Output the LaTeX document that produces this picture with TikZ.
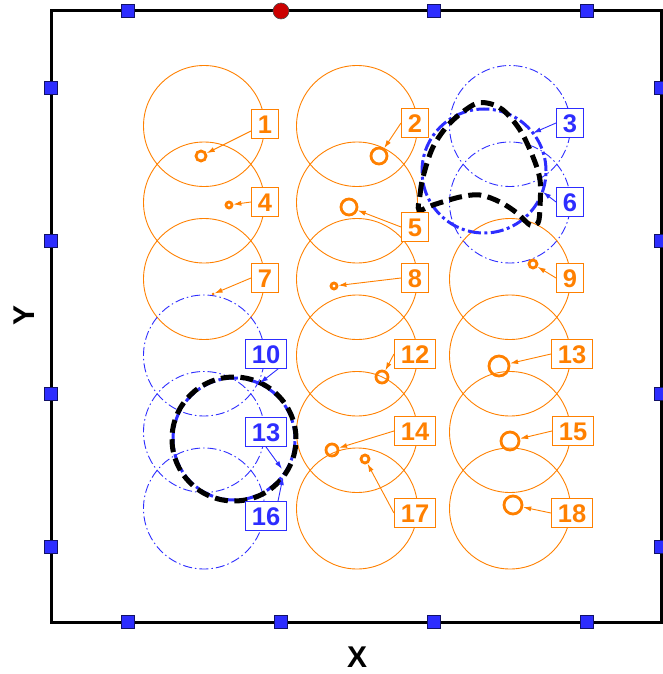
\documentclass[tikz,border=0pt]{standalone}
\usepackage{fontspec}
\setmainfont{Liberation Sans}
\usepackage{tikz}
\usetikzlibrary{arrows.meta,positioning,calc}
\definecolor{orng}{RGB}{255,128,0}
\definecolor{blu}{RGB}{45,45,255}
\definecolor{dotred}{RGB}{204,0,0}

\begin{document}
\begin{tikzpicture}[x=1pt,y=-1pt,
    ring/.style={orng,line width=0.9pt},
    bring/.style={blu,line width=0.9pt,dash pattern=on 9pt off 3pt on 1.5pt off 3pt},
    thick dd/.style={blu,line width=3pt,dash pattern=on 13pt off 3.5pt on 3pt off 3.5pt},
    blackdash/.style={line width=5pt,dash pattern=on 13pt off 6.5pt},
    tag/.style={draw,fill=white,line width=0.8pt,font=\fontsize{25.5}{25.5}\selectfont\bfseries,
        inner xsep=6.5pt,inner ysep=0pt,minimum height=29pt,text height=18pt,text depth=0pt},
    otag/.style={orng,tag},
    btag/.style={blu,tag},
    spot/.style={circle,draw=orng,line width=2.8pt,inner sep=0pt,minimum size=#1},
    lead/.style={-{Latex[length=8pt,width=5pt]},line width=0.9pt},
    axsq/.style={draw=black!60!blu,fill=blu,line width=0.6pt,minimum size=12.5pt,inner sep=0pt}
]
\useasboundingbox (0,0) rectangle (662,674);

% frame and its markers
\draw[line width=3pt] (51,11) rectangle (661,622);
\foreach \s in {77,230,383,536} {
    \node[axsq] (lft\s) at (51,11+\s) {};
    \node[axsq] (rgt\s) at (661,11+\s) {};
    \node[axsq] (bot\s) at (51+\s,622) {};
}
\foreach \s in {77,383,536}
    \node[axsq] (top\s) at (51+\s,11) {};
\node[circle,draw=black!70,fill=dotred,line width=0.6pt,minimum size=16pt,inner sep=0pt] (red) at (281,11) {};

% grid of circles, 3 columns x 6 rows
\foreach \y in {126,202.5,279,355.5,432,508.5}
    \draw[ring] (357,\y) circle[radius=60.5pt];
\foreach \y in {126,202.5,279}
    \draw[ring] (204,\y) circle[radius=60.5pt];
\foreach \y in {355.5,432,508.5}
    \draw[bring] (204,\y) circle[radius=60.5pt];
\foreach \y in {126,202.5}
    \draw[bring] (510,\y) circle[radius=60.5pt];
\foreach \y in {279,355.5,432,508.5}
    \draw[ring] (510,\y) circle[radius=60.5pt];

% fitted circles and outlines
\draw[thick dd] (484,171) circle[radius=62pt];
\draw[thick dd] (234,439) circle[radius=61pt];
\draw[blackdash] (234,439) circle[radius=62pt];
\draw[blackdash] plot[smooth cycle,tension=0.55] coordinates {
    (419,210) (420,195) (423,177) (433,147) (450,123) (473,105) (487,103) (503,110)
    (520,130) (533,157) (540,180) (540,207) (538,223) (530,225) (517,213) (500,202)
    (480,195) (460,197) (433,205)};

% points
\node[spot=10pt] (m1) at (201,156) {};
\node[spot=16pt] (m2) at (379,156) {};
\node[spot=6pt] (m4) at (229,205) {};
\node[spot=16pt] (m5) at (349,207) {};
\node[circle,fill=orng,inner sep=0pt,minimum size=3pt] (m7) at (213,294) {};
\node[spot=6pt] (m8) at (334,286) {};
\node[spot=8pt] (m9) at (533,264) {};
\node[spot=12pt] (m12) at (382,377) {};
\node[spot=20pt] (m13) at (499,366) {};
\node[spot=12pt] (m14) at (332,450) {};
\node[spot=18pt] (m15) at (510,441) {};
\node[spot=8pt] (m17) at (365,459) {};
\node[spot=18pt] (m18) at (513,505) {};
\coordinate (a3) at (533,133);
\coordinate (a6) at (543,192);
\coordinate (a10) at (260,383);
\coordinate (a13) at (282,469);
\coordinate (a16) at (283,477);

% labels
\node[otag] (l1) at (265,124) {1};
\node[otag] (l2) at (415,123) {2};
\node[btag] (l3) at (570,123) {3};
\node[otag] (l4) at (265,202) {4};
\node[otag] (l5) at (415,227) {5};
\node[btag] (l6) at (570,202) {6};
\node[otag] (l7) at (265,278) {7};
\node[otag] (l8) at (415,278) {8};
\node[otag] (l9) at (570,278) {9};
\node[btag] (l10) at (266,354) {10};
\node[otag] (l12) at (415,354) {12};
\node[otag] (l13c) at (572,354) {13};
\node[btag] (l13b) at (266,432) {13};
\node[otag] (l14) at (415,431) {14};
\node[otag] (l15) at (573,431) {15};
\node[btag] (l16) at (266,516) {16};
\node[otag] (l17) at (415,513) {17};
\node[otag] (l18) at (572,513) {18};

% leaders
\draw[lead,orng] (l1) -- (m1);
\draw[lead,orng] (l2.west) -- (m2);
\draw[lead,blu] (l3.west) -- (a3);
\draw[lead,orng] (l4.west) -- (m4);
\draw[lead,orng] (l5.west) -- (m5);
\draw[lead,blu] (l6.west) -- (a6);
\draw[lead,orng] (l7.west) -- (m7);
\draw[lead,orng] (l8.west) -- (m8);
\draw[lead,orng] (l9.west) -- (m9);
\draw[lead,blu] ([xshift=-9pt]l10.south east) -- (a10);
\draw[lead,orng] (l12.west) -- (m12);
\draw[lead,orng] (l13c.west) -- (m13);
\draw[lead,blu] (l13b.south) -- (a13);
\draw[lead,orng] (l14.west) -- (m14);
\draw[lead,orng] (l15.west) -- (m15);
\draw[lead,blu] ([xshift=12pt]l16.north) -- (a16);
\draw[lead,orng] (l17.west) -- (m17);
\draw[lead,orng] (l18.west) -- (m18);

% axis titles
\node[font=\fontsize{30}{30}\selectfont\bfseries] (xlab) at (357,657) {X};
\node[font=\fontsize{30}{30}\selectfont\bfseries,rotate=90] (ylab) at (24,315) {Y};
\end{tikzpicture}
\end{document}
